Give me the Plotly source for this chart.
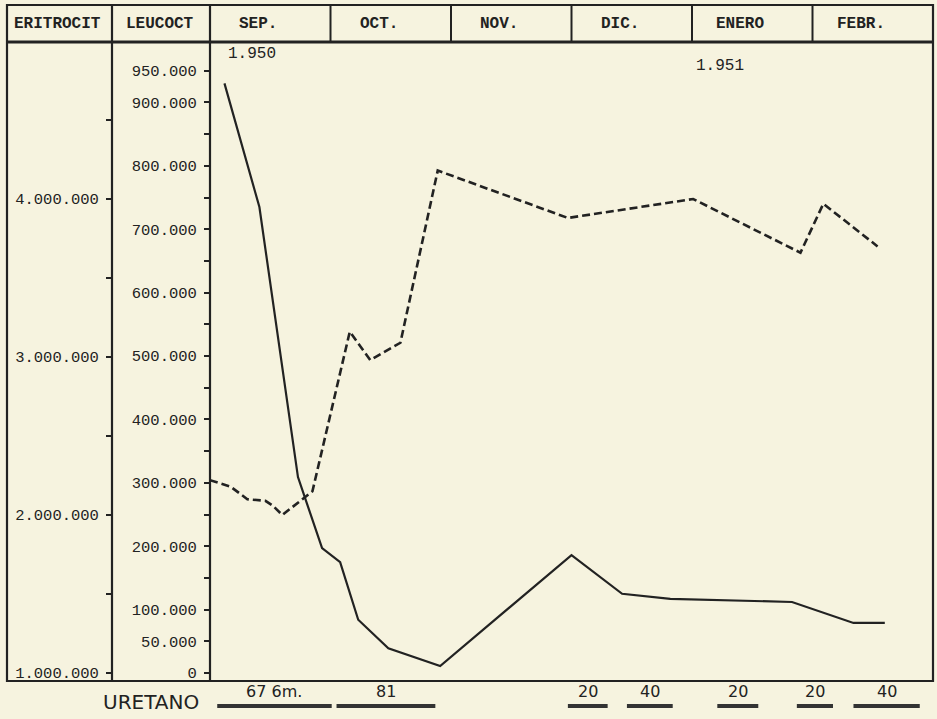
import plotly.graph_objects as go

# ---------------- data ----------------
months = ["SEP.", "OCT.", "NOV.", "DIC.", "ENERO", "FEBR."]
col_labels = ["ERITROCIT", "LEUCOCT"]
year_labels = ["1.950", "1.951"]
year_x = [0.13, 4.23]          # months since 1 Sep 1950

# Leucocitos (solid line), x in months since 1 Sep 1950
leuco_x = [0.12, 0.41, 0.73, 0.93, 1.08, 1.23, 1.48, 1.91, 3.00, 3.42, 3.82, 4.83, 5.34, 5.60]
leuco_y = [930000, 735000, 309000, 197000, 175000, 84000, 39000, 11000,
           186000, 125000, 117000, 112000, 79000, 79000]

# Eritrocitos (dashed line)
eritro_x = [0.0, 0.17, 0.31, 0.46, 0.52, 0.60, 0.85, 1.16, 1.33, 1.58, 1.89,
            2.97, 4.01, 4.90, 5.09, 5.54]
eritro_y = [2220000, 2180000, 2100000, 2090000, 2060000, 2000000, 2150000,
            3160000, 2980000, 3090000, 4180000, 3880000, 4000000, 3660000,
            3970000, 3700000]

leuco_ticks = [0, 50000, 100000, 200000, 300000, 400000, 500000, 600000,
               700000, 800000, 900000, 950000]
leuco_ticktext = ["0", "50.000", "100.000", "200.000", "300.000", "400.000",
                  "500.000", "600.000", "700.000", "800.000", "900.000", "950.000"]
leuco_minor = [150000, 250000, 350000, 450000, 550000, 650000, 750000, 850000]

eritro_ticks = [1000000, 2000000, 3000000, 4000000]
eritro_ticktext = ["1.000.000", "2.000.000", "3.000.000", "4.000.000"]
eritro_minor = [1500000, 2500000, 3500000, 4500000]

# Uretano doses (period start / end in months, label)
uretano_start = [0.06, 1.05, 2.97, 3.46, 4.21, 4.87, 5.34]
uretano_end = [1.01, 1.87, 3.30, 3.84, 4.55, 5.17, 5.89]
uretano_label = ["67 6m.", "81", "20", "40", "20", "20", "40"]

# ---------------- style ----------------
INK = "#222222"
BG = "#f6f3df"
MONO = "Liberation Mono"
SANS = "DejaVu Sans"

W, H = 937, 719
ML, MR, MT, MB = 7, 4, 5, 38
PW, PH = W - ML - MR, H - MT - MB


def px(xpix):
    return (xpix - ML) / PW


def py(ypix):
    return (H - MB - ypix) / PH


HEADER_Y = py(42)
X_DOM0 = px(210)
ERI_X = px(112)

fig = go.Figure()

fig.add_trace(go.Scatter(
    x=eritro_x, y=eritro_y, yaxis="y2", mode="lines",
    line=dict(color=INK, width=2.6, dash="8px,4px"),
    showlegend=False, hoverinfo="skip"))

fig.add_trace(go.Scatter(
    x=leuco_x, y=leuco_y, yaxis="y", mode="lines",
    line=dict(color=INK, width=2.2),
    showlegend=False, hoverinfo="skip"))

shapes = []
# outer frame
shapes.append(dict(type="rect", xref="paper", yref="paper", x0=0, x1=1, y0=0, y1=1,
                   line=dict(color=INK, width=2.2)))
# header bottom line
shapes.append(dict(type="line", xref="paper", yref="paper", x0=0, x1=1,
                   y0=HEADER_Y, y1=HEADER_Y, line=dict(color=INK, width=2.8)))
# axis column lines (full height)
for xv in (ERI_X, X_DOM0):
    shapes.append(dict(type="line", xref="paper", yref="paper", x0=xv, x1=xv,
                       y0=0, y1=1, line=dict(color=INK, width=2.2)))
# month separators in header
for i in range(1, len(months)):
    shapes.append(dict(type="line", xref="x", yref="paper", x0=i, x1=i,
                       y0=HEADER_Y, y1=1, line=dict(color=INK, width=2)))
# uretano bars
for s, e in zip(uretano_start, uretano_end):
    shapes.append(dict(type="line", xref="x", yref="paper", x0=s, x1=e,
                       y0=py(706), y1=py(706), line=dict(color="#333333", width=4)))

annotations = []
hdr_y = py(24)
for lab, xc in zip(col_labels, [px(57), px(160)]):
    annotations.append(dict(text="<b>" + lab + "</b>", xref="paper", yref="paper", x=xc, y=hdr_y,
                            showarrow=False, xanchor="center", yanchor="middle",
                            font=dict(family=MONO, size=16, color=INK)))
for i, m in enumerate(months):
    annotations.append(dict(text="<b>" + m + "</b>", xref="x", yref="paper", x=i + 0.4, y=hdr_y,
                            showarrow=False, xanchor="center", yanchor="middle",
                            font=dict(family=MONO, size=16, color=INK)))
annotations.append(dict(text=year_labels[0], xref="x", yref="paper", x=year_x[0], y=py(54),
                        showarrow=False, xanchor="left", yanchor="middle",
                        font=dict(family=MONO, size=16, color=INK)))
annotations.append(dict(text=year_labels[1], xref="x", yref="paper", x=year_x[1], y=py(66),
                        showarrow=False, xanchor="center", yanchor="middle",
                        font=dict(family=MONO, size=16, color=INK)))
annotations.append(dict(text="URETANO", xref="paper", yref="paper", x=px(101), y=py(702),
                        showarrow=False, xanchor="left", yanchor="middle",
                        font=dict(family=SANS, size=20, color=INK)))
for s, e, lab in zip(uretano_start, uretano_end, uretano_label):
    annotations.append(dict(text=lab, xref="x", yref="paper", x=(s + e) / 2, y=py(691),
                            showarrow=False, xanchor="center", yanchor="middle",
                            font=dict(family=SANS, size=16, color=INK)))

axis_common = dict(
    domain=[0, HEADER_Y], anchor="free", side="left", tickmode="array",
    ticks="outside", ticklen=6, tickwidth=2, tickcolor=INK,
    showline=False, showgrid=False, zeroline=False, automargin=False,
    tickfont=dict(family=MONO, size=15.5, color=INK), ticklabelstandoff=4,
)

fig.update_layout(
    width=W, height=H, autosize=False,
    margin=dict(l=ML, r=MR, t=MT, b=MB, pad=0),
    paper_bgcolor=BG, plot_bgcolor=BG,
    showlegend=False,
    xaxis=dict(domain=[X_DOM0, 1], range=[0, 6], visible=False, fixedrange=True),
    yaxis=dict(range=[-12600, 995300], position=X_DOM0,
               tickvals=leuco_ticks, ticktext=leuco_ticktext,
               minor=dict(tickvals=leuco_minor, ticks="outside", ticklen=6,
                          tickwidth=2, tickcolor=INK),
               **axis_common),
    yaxis2=dict(range=[949400, 4993700], position=ERI_X, overlaying="y",
                tickvals=eritro_ticks, ticktext=eritro_ticktext,
                minor=dict(tickvals=eritro_minor, ticks="outside", ticklen=6,
                           tickwidth=2, tickcolor=INK),
                **axis_common),
    shapes=shapes,
    annotations=annotations,
)

fig.write_html(
    "out.html",
    config={"displayModeBar": False, "staticPlot": True},
    post_script="document.body.style.margin='0';document.body.style.padding='0';"
                "document.body.style.background='" + BG + "';"
                "document.documentElement.style.overflow='hidden';",
)
